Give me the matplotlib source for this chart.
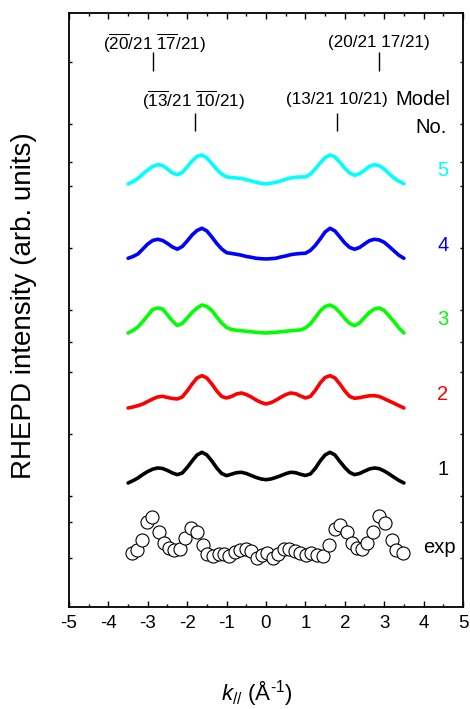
import numpy as np
import matplotlib
matplotlib.use("Agg")
import matplotlib.pyplot as plt

plt.rcParams['font.family'] = ['Liberation Sans', 'DejaVu Sans']
plt.rcParams['mathtext.fontset'] = 'custom'
plt.rcParams['mathtext.rm'] = 'Liberation Sans'
plt.rcParams['mathtext.it'] = 'Liberation Sans:italic'
plt.rcParams['axes.unicode_minus'] = False

# sample positions of the simulated curves (k in 1/A)
k = np.linspace(-3.5, 3.5, 57)

model1 = [0, 2.3, 5, 8.5, 11.5, 13.8, 15, 14.5, 12.5, 10, 8.3, 10, 15.5, 22, 28, 30.7, 28, 22, 15, 9.5,
          7.3, 8.8, 10.3, 10.7, 9.5, 7.5, 5.5, 4,
          3.3, 4, 5.5, 7.3, 9.3, 10.7, 10.3, 8.7, 7.5, 9, 14.5, 22, 28, 30.7, 28, 21.5, 15.5, 10.5,
          8.3, 9.5, 11.8, 14, 15, 14.3, 12, 9, 5.7, 2.5, 0]
model2 = [0, 1, 2.3, 4, 6.5, 9, 11, 11.7, 10.5, 9.5, 9, 11, 17, 24, 30, 32.3, 30, 24, 17, 11.5,
          10, 11.5, 14, 15, 13.5, 11, 8, 5.5,
          4, 5.3, 7.7, 10.7, 13.3, 15, 14.3, 12, 10, 11.5, 17.5, 25, 30.5, 32.3, 30, 24, 17, 11.5,
          9.7, 10.3, 11.3, 12.2, 12.3, 11.5, 9.3, 7, 4.7, 2.3, 0]
model3 = [0, 2.5, 6, 11.5, 17.5, 23.5, 25, 24, 18, 12, 7.5, 9.5, 15, 20.5, 25, 28, 26.5, 22.5, 16, 10,
          5.5, 3.5, 2.7, 2.2, 1.7, 1.2, 0.7, 0.3,
          0, 0.3, 0.7, 1.2, 1.7, 2.2, 2.7, 3, 5, 9, 15.3, 22, 26.5, 28, 25.5, 20.5, 14.5, 9.5,
          7.3, 10, 15.5, 20.5, 24, 25, 22.5, 17, 11.3, 5, 0]
model4 = [0.7, 2.5, 5, 10, 15, 18.5, 19.7, 18.5, 15.5, 12, 9.8, 12.5, 18, 24, 28.5, 30.7, 28, 22, 15.5, 10,
          6.3, 5.5, 4.7, 3.8, 2.5, 1.7, 0.7, 0.3,
          0, 0.3, 0.7, 2, 3, 4.3, 5, 5.5, 5.7, 8.5, 13.5, 20, 27, 30.7, 28, 22, 16, 11.5,
          9.7, 11.5, 15, 18.3, 19.7, 19, 16.7, 12.5, 8, 3.7, 0.7]
model5 = [0, 2.5, 5.5, 10, 14, 17.5, 19.3, 18.5, 15, 11, 9.3, 11.5, 17, 23, 27.5, 29, 26, 20.5, 14.5, 10,
          7, 6.5, 6, 5.5, 4.3, 3, 1.7, 0.7,
          0, 0.7, 1.7, 3, 4.7, 6, 6.7, 7, 7, 9.7, 15, 21, 26.3, 29, 27, 21.7, 15.7, 11,
          8.7, 10.3, 13.7, 17.7, 19.3, 18.3, 15, 10.3, 6, 2.7, 0.3]

models = [model1, model2, model3, model4, model5]
offsets = [124, 199, 274, 348, 423]
colors = ['black', 'red', '#00ff00', 'blue', 'cyan']
model_labels = ['1', '2', '3', '4', '5']

# experimental points
exp_k = [-3.41, -3.27, -3.15, -3.03, -2.89, -2.72, -2.58, -2.45, -2.33, -2.18, -2.06, -1.91, -1.76,
         -1.61, -1.49, -1.34, -1.19, -1.07, -0.93, -0.79, -0.66, -0.52, -0.38, -0.24, -0.11, 0.03,
         0.17, 0.31, 0.46, 0.59, 0.74, 0.86, 1.01, 1.14, 1.29, 1.45, 1.61, 1.75, 1.88, 2.05, 2.18,
         2.32, 2.44, 2.57, 2.72, 2.88, 3.02, 3.19, 3.31, 3.47]
exp_i = [53.7, 57, 67, 85.3, 90.3, 75.3, 64.3, 58.7, 57, 57.7, 68.7, 78.7, 75.3, 62, 53, 51, 52.7,
         52.7, 51, 55.3, 57, 57.7, 56.3, 48.7, 52, 54.3, 48.7, 53, 57.7, 57.7, 56.3, 54.3, 52, 54.3,
         52, 51, 62, 77.7, 82, 75.3, 63.7, 58.7, 57.7, 63.7, 75.3, 91, 83.7, 67, 57, 53.7]

fig = plt.figure(figsize=(4.7, 7.09), dpi=100)
ax = fig.add_axes([0.1468, 0.1439, 0.8383, 0.8378])

for y, off, c in zip(models, offsets, colors):
    ax.plot(k, np.array(y) + off, color=c, lw=2.6, solid_capstyle='round')

ax.plot(exp_k, exp_i, 'o', ms=9.4, mfc='white', mec='black', mew=0.8, ls='none')

for lab, off, c in zip(model_labels, offsets, colors):
    ax.text(4.49, off + 13, lab, color=c, fontsize=14.5, ha='center', va='center')
ax.text(4.41, 59, 'exp', fontsize=14.5, ha='center', va='center')
ax.text(4.67, 507, 'Model', fontsize=14.5, ha='right', va='center')
ax.text(4.6, 479, 'No.', fontsize=14.5, ha='right', va='center')

ol = r'$\overline{\mathrm{%s}}$'
ax.text(-2.84, 564, '(' + ol % '20' + '/21 ' + ol % '17' + '/21)', fontsize=12.3, ha='center', va='center')
ax.text(2.87, 564, '(20/21 17/21)', fontsize=12.3, ha='center', va='center')
ax.text(-1.85, 507, '(' + ol % '13' + '/21 ' + ol % '10' + '/21)', fontsize=12.3, ha='center', va='center')
ax.text(1.80, 507, '(13/21 10/21)', fontsize=12.3, ha='center', va='center')
ax.vlines([-2.87, 2.87], 536, 555, color='black', lw=1)
ax.vlines([-1.80, 1.80], 476, 494, color='black', lw=1)

ax.set_xlim(-5, 5)
ax.set_ylim(0, 594)
ax.set_xticks(np.arange(-5, 6, 1))
ax.set_xticks(np.arange(-4.5, 5, 1), minor=True)
ax.set_yticks([85, 265, 445])
ax.set_yticks([49, 111, 173, 235, 297, 359, 421, 483, 545], minor=True)
ax.set_yticklabels([])
ax.tick_params(which='both', direction='in', top=True, right=True, labelsize=13.5, width=1)
ax.tick_params(axis='x', which='major', length=4.5)
ax.tick_params(axis='x', which='minor', length=2.5)
ax.tick_params(axis='y', which='both', length=2.5)
ax.tick_params(axis='x', pad=6)
for s in ax.spines.values():
    s.set_linewidth(1.3)

fig.text(24 / 470, 1 - 306 / 709, 'RHEPD intensity (arb. units)', rotation=90,
         fontsize=20, ha='center', va='center')
fig.text(257 / 470, 1 - 693 / 709, r'$\mathit{k}_{//}$ (Å$^{\mathrm{\text{-}1}}$)', fontsize=16,
         ha='center', va='center')

fig.savefig('out.png', dpi=100)
